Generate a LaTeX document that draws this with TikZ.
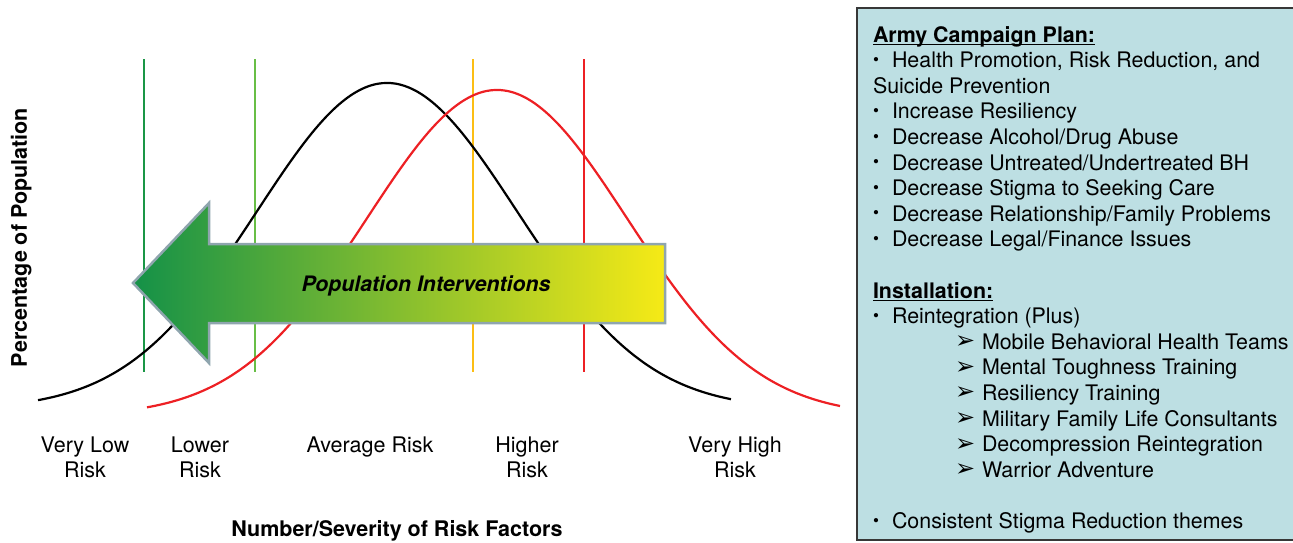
\documentclass[tikz,border=0pt]{standalone}
\usepackage{fontspec}
\setmainfont{TeX Gyre Heros}
\newfontfamily\dingfont{DejaVu Sans}
\definecolor{lineDarkGreen}{RGB}{26,150,70}
\definecolor{lineLightGreen}{RGB}{104,190,70}
\definecolor{lineYellow}{RGB}{252,190,20}
\definecolor{lineRed}{RGB}{237,32,36}
\definecolor{arrowBorder}{RGB}{143,165,174}
\definecolor{arrowLeft}{RGB}{20,145,72}
\definecolor{arrowMid}{RGB}{140,184,62}
\definecolor{arrowRight}{RGB}{246,234,22}
\definecolor{panelFill}{RGB}{189,223,227}
\definecolor{panelBorder}{RGB}{55,55,55}
\newcommand{\bul}{\makebox[19pt][l]{\raisebox{2.4pt}{\fontsize{17}{17}\selectfont •}}}
\newcommand{\subarrow}{\makebox[27pt][l]{\smash{\raisebox{0.6pt}{\dingfont\fontsize{24}{24}\selectfont ➢}}}}
\begin{document}
\begin{tikzpicture}[x=1pt,y=-1pt,
  every node/.style={inner sep=0pt,outer sep=0pt},
  axislabel/.style={font=\fontsize{21.5}{25}\selectfont\bfseries},
  risklabel/.style={font=\fontsize{21.5}{25}\selectfont,align=center,anchor=north},
  boxtxt/.style={font=\fontsize{21.4}{25.6}\selectfont,anchor=base west},
  boxhead/.style={font=\fontsize{21.4}{25.6}\selectfont\bfseries,anchor=base west},
  divider/.style={line width=2pt},
  curve/.style={line width=2.2pt,smooth},
]
\useasboundingbox (0,0) rectangle (1293,542);

% risk band dividers
\coordinate (d1t) at (144,59);  \coordinate (d1b) at (144,372);
\coordinate (d2t) at (255,59);  \coordinate (d2b) at (255,372);
\coordinate (d3t) at (473,59);  \coordinate (d3b) at (473,372);
\coordinate (d4t) at (584,59);  \coordinate (d4b) at (584,372);
\draw[divider,lineDarkGreen]  (d1t) -- (d1b);
\draw[divider,lineLightGreen] (d2t) -- (d2b);
\draw[divider,lineYellow]     (d3t) -- (d3b);
\draw[divider,lineRed]        (d4t) -- (d4b);

% population distributions
\draw[curve,black] plot[domain=38:731,samples=160]
  (\x,{409-326*exp(-0.5*((\x-387)/130)^2)});
\draw[curve,lineRed] plot[domain=147:840,samples=160]
  (\x,{416-326*exp(-0.5*((\x-497)/130)^2)});

% intervention arrow
\shadedraw[left color=arrowLeft,middle color=arrowMid,right color=arrowRight,
  shading angle=90,draw=arrowBorder,line width=2.5pt,line join=miter]
  (133,283) -- (209,203) -- (209,244) -- (665,244) -- (665,323)
  -- (209,323) -- (209,363) -- cycle;
\node[font=\fontsize{21.3}{25}\selectfont\bfseries\itshape,anchor=base]
  (pi) at (426,291) {Population Interventions};

% axis labels
\node[axislabel,rotate=90,anchor=base] (ylab) at (27,237.5) {Percentage of Population};
\node[axislabel,anchor=base] (xlab) at (397,536.5) {Number/Severity of Risk Factors};

% risk categories
\node[risklabel] (vlow)  at (85,437)  {Very Low\\Risk};
\node[risklabel] (low)   at (200,437) {Lower\\Risk};
\node[risklabel] (avg)   at (370,437) {Average Risk};
\node[risklabel] (high)  at (527,437) {Higher\\Risk};
\node[risklabel] (vhigh) at (735,437) {Very High\\Risk};

% programme panel
\draw[fill=panelFill,draw=panelBorder,line width=2.6pt] (857,8) rectangle (1300,540);

\node[boxhead] (acp) at (873,42) {Army Campaign Plan:};
\draw[line width=1.3pt] ([yshift=-2.2pt]acp.base west) -- ([yshift=-2.2pt]acp.base east);
\node[boxtxt] (a1) at (873,67.6)  {\bul Health Promotion, Risk Reduction, and};
\node[boxtxt] (a1b) at (873,93.2) {Suicide Prevention};
\node[boxtxt] (a2) at (873,118.8) {\bul Increase Resiliency};
\node[boxtxt] (a3) at (873,144.4) {\bul Decrease Alcohol/Drug Abuse};
\node[boxtxt] (a4) at (873,170.0) {\bul Decrease Untreated/Undertreated BH};
\node[boxtxt] (a5) at (873,195.6) {\bul Decrease Stigma to Seeking Care};
\node[boxtxt] (a6) at (873,221.2) {\bul Decrease Relationship/Family Problems};
\node[boxtxt] (a7) at (873,246.8) {\bul Decrease Legal/Finance Issues};

\node[boxhead] (inst) at (873,298) {Installation:};
\draw[line width=1.3pt] ([yshift=-2.2pt]inst.base west) -- ([yshift=-2.2pt]inst.base east);
\node[boxtxt] (i1) at (873,323.6) {\bul Reintegration (Plus)};
\foreach \t [count=\i] in {Mobile Behavioral Health Teams,Mental Toughness Training,
  Resiliency Training,Military Family Life Consultants,Decompression Reintegration,
  Warrior Adventure}
  \node[boxtxt] (sub\i) at (955,{323.6+25.6*\i}) {\subarrow\t};
\node[boxtxt] (i2) at (873,528.4) {\bul Consistent Stigma Reduction themes};
\end{tikzpicture}
\end{document}
